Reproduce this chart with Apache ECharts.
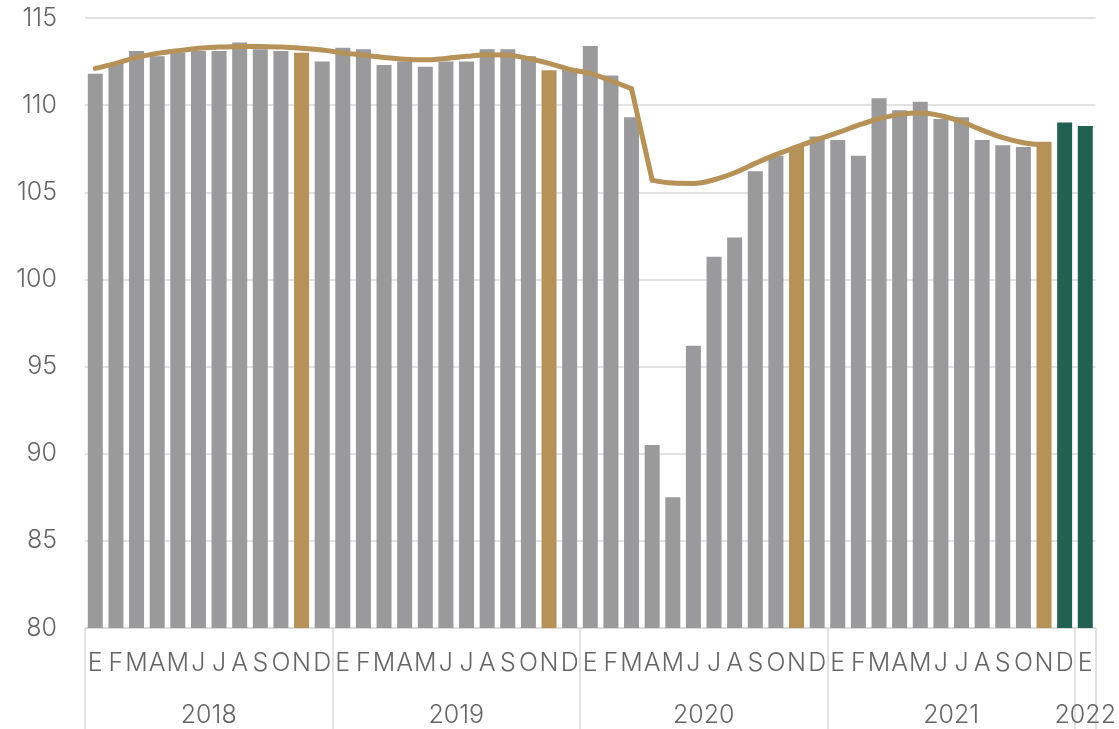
<!DOCTYPE html>
<html>
<head>
<meta charset="utf-8">
<script src="https://cdn.jsdelivr.net/npm/echarts@6/dist/echarts.min.js"></script>
<style>
html,body{margin:0;padding:0;background:#fff;}
#chart{width:1119px;height:729px;}
</style>
</head>
<body>
<div id="chart"></div>
<script>
const monthLetters = ['E','F','M','A','M','J','J','A','S','O','N','D'];
const years = ['2018','2019','2020','2021','2022'];
const yTicks = [80, 85, 90, 95, 100, 105, 110, 115];

// Monthly index values (bars)
const v2018 = [111.8,112.4,113.1,112.8,113.0,113.1,113.1,113.6,113.2,113.1,113.0,112.5];
const v2019 = [113.3,113.2,112.3,112.5,112.2,112.5,112.5,113.2,113.2,112.8,112.0,112.1];
const v2020 = [113.4,111.7,109.3,90.5,87.5,96.2,101.3,102.4,106.2,107.1,107.6,108.2];
const v2021 = [108.0,107.1,110.4,109.7,110.2,109.2,109.3,108.0,107.7,107.6,107.9,109.0];
const v2022 = [108.8];

// Trend line values
const t2018 = [112.11,112.40,112.74,112.97,113.12,113.26,113.33,113.37,113.37,113.33,113.26,113.16];
const t2019 = [113.00,112.87,112.74,112.63,112.60,112.68,112.80,112.89,112.87,112.68,112.40,112.05];
const t2020 = [111.82,111.40,110.94,105.70,105.53,105.51,105.72,106.12,106.66,107.16,107.60,108.02];
const t2021 = [108.42,108.85,109.22,109.47,109.55,109.39,109.05,108.57,108.13,107.84,107.71];

const GRAY = '#9a9a9c', GOLD = '#b69158', GREEN = '#216151';

const yearData = [v2018, v2019, v2020, v2021, v2022];
const cats = [], yearOfCat = [], barVals = [];
yearData.forEach((arr, yi) => {
  arr.forEach((v, mi) => {
    cats.push(monthLetters[mi]);
    yearOfCat.push(years[yi]);
    barVals.push(v);
  });
});
const trend = [].concat(t2018, t2019, t2020, t2021);
while (trend.length < cats.length) trend.push(null);

// the trend breaks sharply at Mar 2020 -> Apr 2020 (indices 26 -> 27)
const BREAK_A = 26, BREAK_B = 27;
const seg = (from, to) => trend.map((v, i) => (i >= from && i <= to ? v : null));
const trendPart1 = seg(0, BREAK_A);
const trendPart2 = seg(BREAK_A, BREAK_B);
const trendPart3 = seg(BREAK_B, trend.length - 1);

const barData = barVals.map((v, i) => {
  let c = GRAY;
  if (cats[i] === 'N') c = GOLD;
  if (i >= 47) c = GREEN;
  return { value: v, itemStyle: { color: c } };
});

const groupStart = {};
yearOfCat.forEach((y, i) => { if (groupStart[y] === undefined) groupStart[y] = i; });

const FONT = 'Inter';
const TXT = '#666666';
const FS = 25;
const lineStyle = { color: GOLD, width: 5, cap: 'round', join: 'round' };
const lineSeries = (data, smooth) => ({
  type: 'line', data, xAxisIndex: 0, smooth, showSymbol: false,
  connectNulls: false, lineStyle, z: 3
});

const chart = echarts.init(document.getElementById('chart'), null, { renderer: 'canvas' });
chart.setOption({
  animation: false,
  backgroundColor: '#ffffff',
  grid: { left: 85, right: 23, top: 18, bottom: 101, containLabel: false },
  xAxis: [
    {
      type: 'category',
      data: cats,
      position: 'bottom',
      axisLine: { show: true, lineStyle: { color: '#d9d9d9', width: 1.5 } },
      axisTick: {
        show: true,
        interval: (idx) => idx % 12 === 0 || idx === 48,
        length: 101,
        lineStyle: { color: '#d9d9d9', width: 1.5 }
      },
      axisLabel: {
        interval: 0, margin: 23,
        fontFamily: FONT, fontWeight: 300, fontSize: FS, color: TXT
      }
    },
    {
      type: 'category',
      data: yearOfCat,
      position: 'bottom',
      axisLine: { show: false },
      axisTick: { show: false },
      axisLabel: {
        interval: 0, margin: 75,
        fontFamily: FONT, fontWeight: 300, fontSize: FS, color: TXT,
        formatter: (val, idx) => {
          const s = groupStart[val];
          const n = yearOfCat.filter(y => y === val).length;
          if (n === 1) return idx === s ? '{p|' + val + '}' : '';
          if (idx === s + 5) return '{a|' + val + '}';
          return '';
        },
        rich: {
          a: { padding: [0, 0, 0, 20.6], fontFamily: FONT, fontWeight: 300, fontSize: FS, color: TXT },
          p: { fontFamily: FONT, fontWeight: 300, fontSize: FS, color: TXT }
        }
      }
    }
  ],
  yAxis: {
    type: 'value',
    min: yTicks[0], max: yTicks[yTicks.length - 1], interval: 5,
    axisLine: { show: false },
    axisTick: { show: false },
    splitLine: { lineStyle: { color: '#d9d9d9', width: 1.5 } },
    axisLabel: { margin: 28, fontFamily: FONT, fontWeight: 300, fontSize: FS, color: TXT }
  },
  series: [
    { type: 'bar', data: barData, barWidth: 15, xAxisIndex: 0, z: 2 },
    lineSeries(trendPart1, 0.4),
    lineSeries(trendPart2, false),
    lineSeries(trendPart3, 0.4)
  ]
});
</script>
</body>
</html>
